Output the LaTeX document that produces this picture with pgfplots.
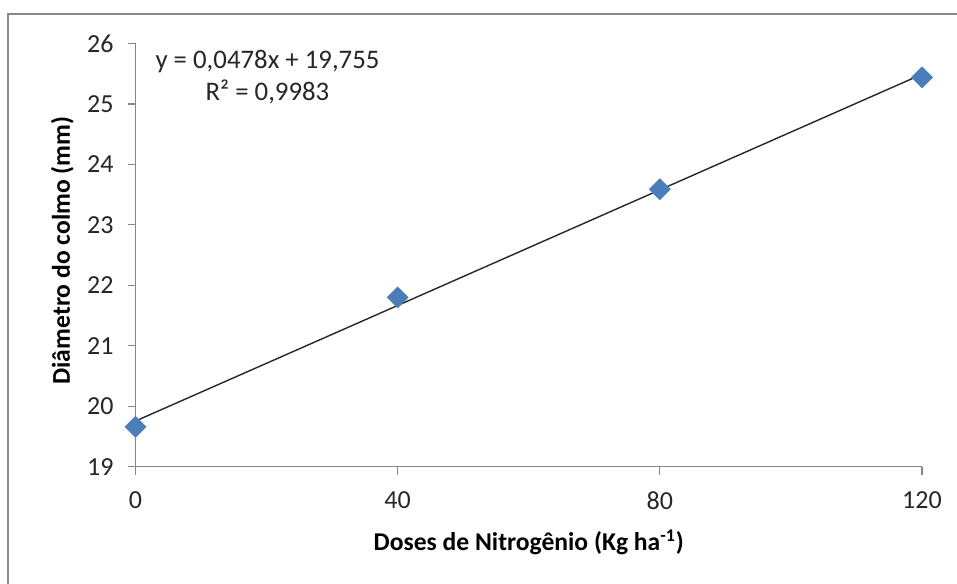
\documentclass[border=0pt]{standalone}
\usepackage{fontspec}
\setmainfont{Carlito}
\usepackage{pgfplots}
\pgfplotsset{compat=1.18}

\definecolor{axisgray}{RGB}{134,134,134}
\definecolor{framegray}{RGB}{136,136,136}
\definecolor{xlblue}{RGB}{74,126,187}

\begin{document}
\begin{tikzpicture}
\begin{axis}[
    scale only axis,
    width=393.25pt,
    height=211.6pt,
    xmin=0, xmax=120,
    ymin=19, ymax=26,
    xtick={0,40,80,120},
    ytick={19,20,21,22,23,24,25,26},
    axis lines=left,
    axis line style={draw=axisgray, line width=0.6pt, -},
    tick style={draw=axisgray, line width=0.6pt},
    tick align=outside,
    major tick length=4pt,
    clip=false,
    /pgf/number format/assume math mode=true,
    ticklabel style={font=\fontsize{13}{15}\selectfont, text=black!85},
    yticklabel style={xshift=-3.5pt},
    xticklabel style={yshift=-5pt},
    xlabel={Doses de Nitrogênio (Kg ha\textsuperscript{-1})},
    ylabel={Diâmetro do colmo (mm)},
    label style={font=\bfseries\fontsize{12.8}{14}\selectfont},
    xlabel style={at={([yshift=-42pt]axis description cs:0.5,0)}, anchor=base},
    ylabel style={at={([xshift=-32.75pt,yshift=2.25pt]axis description cs:0,0.5)}, anchor=base},
]
% trend line y = 0,0478x + 19,755
\addplot[black!85, line width=0.7pt] coordinates {(0,19.755) (120,25.491)};
% observed means
\addplot[only marks, mark=square*, mark size=3.7pt,
    mark options={rotate=45, fill=xlblue, draw=xlblue, line width=0.3pt}]
    coordinates {(0,19.66) (40,21.80) (80,23.59) (120,25.44)};
\node[anchor=base, font=\fontsize{13.4}{15}\selectfont, text=black!85]
    at ([yshift=-12.4pt]rel axis cs:0.1678,1) {y = 0,0478x + 19,755};
\node[anchor=base, font=\fontsize{13.4}{15}\selectfont, text=black!85]
    at ([yshift=-28.25pt]rel axis cs:0.1678,1) {R² = 0,9983};
\coordinate (O) at (rel axis cs:0,0);
\end{axis}
\draw[framegray, line width=1.2pt]
    ([shift={(-63.75pt,-80pt)}]O) -- ([shift={(-63.75pt,226.35pt)}]O)
    -- ([shift={(480pt,226.35pt)}]O);
\pgfresetboundingbox
\path[use as bounding box] ([shift={(-67.75pt,-58.15pt)}]O)
    rectangle ([shift={(410.75pt,233.35pt)}]O);
\end{tikzpicture}
\end{document}
